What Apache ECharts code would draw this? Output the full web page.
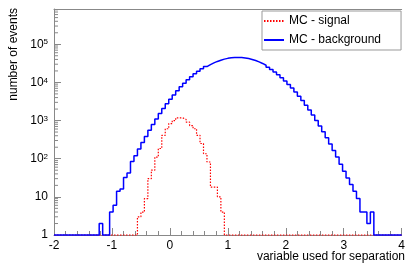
<!DOCTYPE html>
<html>
<head>
<meta charset="utf-8">
<script src="https://cdn.jsdelivr.net/npm/echarts@6/dist/echarts.min.js"></script>
<style>
  html, body { margin: 0; padding: 0; background: #fff; }
  #chart { width: 408px; height: 266px; }
</style>
</head>
<body>
<div id="chart"></div>
<script>
// histogram binning: 100 bins from -2 to 4
const xMin = -2
const xMax = 4
const nBins = 100
const binWidth = 0.06
const yMin = 1
const yMax = 840000

// MC - signal, bins 24..48
const sigFirstBin = 24
const sigCounts = [3, 4, 9, 30, 50, 110, 185, 410, 610, 830, 1000, 1180, 1180,
  1070, 910, 740, 610, 410, 250, 135, 82, 18, 18, 10, 4]

// MC - background, bins 13..91
const bkgFirstBin = 13
const bkgCounts = [2, 0, 0,
  4, 6, 14, 16, 32, 42, 85, 120, 180, 265, 380, 560, 790, 1100, 1520, 2060, 2750, 3600, 4700,
  6050, 7650, 9480, 11700, 14000, 16800, 19600, 22800, 26000, 29300, 32400, 35500, 38200,
  40800, 42700, 44100, 45000, 45200, 44800, 43700, 42100, 40000, 37400, 34500, 31400,
  28200, 24900, 21700, 18700, 15800, 13200, 10900, 8850, 7100, 5600, 4350, 3350, 2530,
  1890, 1390, 1010, 720, 510, 355, 242, 165, 110, 72, 47, 31, 21, 14, 9, 4, 4, 2, 4]

const xTicks = [-2, -1, 0, 1, 2, 3, 4]

const font = 'Liberation Sans'
const axisGray = '#888'

// outline of a histogram, empty bins drawn on the bottom of the frame
function histSteps (firstBin, counts) {
  const pts = []
  for (let k = 0; k < nBins; k++) {
    const i = k - firstBin
    const v = (i >= 0 && i < counts.length) ? counts[i] : 0
    const y = Math.max(v, yMin)
    pts.push([xMin + k * binWidth, y], [xMin + (k + 1) * binWidth, y])
  }
  return pts
}

// log minor ticks 2..9 of every decade
const minorY = []
for (let e = 0; e < 6; e++) {
  for (let d = 2; d <= 9; d++) {
    const v = d * Math.pow(10, e)
    if (v < yMax) minorY.push([xMin, v])
  }
}

const chart = echarts.init(document.getElementById('chart'))
const option = {
  backgroundColor: '#fff',
  animation: false,
  grid: { left: 54, right: 2, top: 9, bottom: 31 },
  xAxis: [{
    type: 'value',
    min: xMin,
    max: xMax,
    interval: 1,
    axisLine: { show: true, onZero: false, lineStyle: { color: axisGray, width: 1 } },
    axisTick: { show: true, inside: true, length: 7, lineStyle: { color: axisGray } },
    minorTick: { show: true, splitNumber: 5, length: 4, lineStyle: { color: axisGray } },
    splitLine: { show: false },
    axisLabel: {
      margin: 5,
      fontFamily: font,
      fontSize: 12,
      color: '#000',
      formatter: v => xTicks.includes(v) ? String(v) : ''
    }
  }, {
    type: 'value',
    position: 'top',
    min: xMin,
    max: xMax,
    axisLine: { show: true, onZero: false, lineStyle: { color: axisGray, width: 1 } },
    axisTick: { show: false },
    axisLabel: { show: false },
    splitLine: { show: false }
  }],
  yAxis: {
    type: 'log',
    logBase: 10,
    min: yMin,
    max: yMax,
    axisLine: { show: true, onZero: false, lineStyle: { color: axisGray, width: 1 } },
    axisTick: { show: true, inside: true, length: 7, lineStyle: { color: axisGray } },
    splitLine: { show: false },
    axisLabel: {
      margin: 6,
      showMaxLabel: false,
      fontFamily: font,
      fontSize: 12,
      color: '#000',
      formatter: v => {
        const e = Math.round(Math.log10(v))
        if (Math.abs(Math.log10(v) - e) > 1e-6) return ''
        if (e === 0) return '1'
        if (e === 1) return '10'
        return '10{sup|' + e + '}'
      },
      rich: {
        sup: { fontFamily: font, fontSize: 8, verticalAlign: 'top', color: '#000' }
      }
    }
  },
  legend: {
    orient: 'vertical',
    left: 262,
    top: 11,
    itemWidth: 20,
    itemHeight: 14,
    itemGap: 7,
    padding: [4, 20, 4, 1],
    borderColor: '#999',
    borderWidth: 1,
    backgroundColor: '#fff',
    itemStyle: { opacity: 0 },
    textStyle: { fontFamily: font, fontSize: 12, color: '#000' },
    data: ['MC - signal', 'MC - background']
  },
  graphic: [{
    type: 'text',
    x: 14,
    y: 8,
    rotation: Math.PI / 2,
    style: {
      text: 'number of events',
      align: 'right',
      verticalAlign: 'middle',
      font: '12px "Liberation Sans"',
      fill: '#000'
    }
  }, {
    type: 'text',
    x: 405,
    y: 257,
    style: {
      text: 'variable used for separation',
      align: 'right',
      verticalAlign: 'middle',
      font: '12px "Liberation Sans"',
      fill: '#000'
    }
  }],
  series: [{
    name: 'MC - signal',
    type: 'line',
    data: histSteps(sigFirstBin, sigCounts),
    showSymbol: false,
    symbol: 'none',
    clip: false,
    color: '#ff0000',
    lineStyle: { color: '#ff0000', width: 1.2, type: [1.5, 1.5] },
    z: 3
  }, {
    name: 'MC - background',
    type: 'line',
    data: histSteps(bkgFirstBin, bkgCounts),
    showSymbol: false,
    symbol: 'none',
    clip: false,
    color: '#0000ff',
    lineStyle: { color: '#0000ff', width: 1.5 },
    z: 4
  }, {
    // minor ticks of the log axis
    type: 'custom',
    data: minorY,
    silent: true,
    z: 5,
    renderItem: (params, api) => {
      const p = api.coord([api.value(0), api.value(1)])
      return {
        type: 'line',
        shape: { x1: p[0], y1: p[1], x2: p[0] + 4, y2: p[1] },
        style: { stroke: axisGray, lineWidth: 1 }
      }
    }
  }]
}
chart.setOption(option)
window.addEventListener('resize', () => {
  chart.resize()
})
</script>
</body>
</html>
